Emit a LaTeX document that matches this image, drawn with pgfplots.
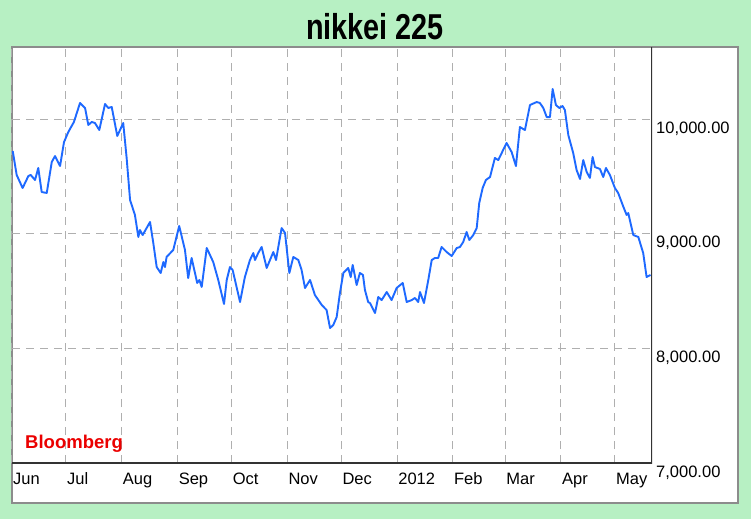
\documentclass[border=0pt]{standalone}
\usepackage{fontspec}
\setmainfont{Liberation Sans}
\usepackage{graphicx}
\usepackage{pgfplots}
\pgfplotsset{compat=1.18}

\definecolor{bggreen}{RGB}{183,240,195}
\definecolor{panelgray}{RGB}{140,140,140}
\definecolor{gridgray}{RGB}{175,175,175}
\definecolor{nkblue}{RGB}{30,105,255}
\definecolor{bbred}{RGB}{235,0,0}

\begin{document}
\begin{tikzpicture}[x=1pt,y=1pt]
  \useasboundingbox (0,0) rectangle (751,519);
  % page background and white panel
  \fill[bggreen] (0,0) rectangle (751,519);
  \fill[white] (12,16) rectangle (738,472);
  \draw[panelgray, line width=1.5pt] (12,16) rectangle (738,472);

  \node[anchor=base] at (375,479)
    {\scalebox{0.8}[1]{\fontsize{36}{40}\selectfont\bfseries nikkei 225}};

  \begin{axis}[
    at={(12pt,56pt)}, anchor=south west,
    scale only axis,
    width=640pt, height=416pt,
    xmin=0, xmax=355.6,
    ymin=7000, ymax=10628,
    axis line style={draw=none},
    major tick length=0pt,
    xtick={0,30,61,92,122,153,183,214,245,274,305,335},
    xticklabels={Jun,Jul,Aug,Sep,Oct,Nov,Dec,2012,Feb,Mar,Apr,May},
    ytick={7000,8000,9000,10000},
    yticklabel pos=right,
    grid=major,
    major grid style={gridgray, line width=1pt, dash pattern=on 8pt off 6pt},
    ticklabel style={font=\fontsize{16.5}{18}\selectfont, inner sep=0pt},
    x tick label style={anchor=base west, yshift=-21pt, xshift=1pt},
    y tick label style={anchor=base west, xshift=4pt, yshift=-14pt},
    scaled y ticks=false,
    /pgf/number format/.cd, fixed, fixed zerofill, precision=2, 1000 sep={,},
    assume math mode=true,
  ]
    \addplot[nkblue, line width=1.9pt, line join=round] coordinates {
      (0.4,9721) (2.6,9512) (5.9,9398) (9.1,9503) (10.4,9512) (12.8,9468)
      (14.6,9573) (16.5,9363) (19.3,9355) (22.1,9625) (23.9,9677) (26.7,9590)
      (28.9,9799) (31.3,9887) (34.4,9974) (37.8,10140) (40.6,10096) (42.4,9948)
      (44.3,9974) (46.1,9965) (48.5,9904) (51.7,10131) (53.5,10096) (55.4,10105)
      (58.5,9852) (61.8,9965) (63.7,9660) (65.6,9294) (68.3,9163) (70.2,8971)
      (71.1,9032) (72.6,8988) (76.7,9102) (78.5,8919) (80.4,8709) (82.6,8657)
      (84.1,8753) (85.0,8709) (85.9,8797) (89.6,8858) (92.9,9067) (96.1,8858)
      (97.9,8613) (99.8,8788) (102.9,8570) (104.1,8596) (105.4,8535) (108.2,8875)
      (111.8,8753) (114.6,8596) (117.8,8387) (119.3,8596) (121.1,8709) (122.6,8683)
      (126.7,8404) (129.4,8622) (132.2,8770) (134.1,8831) (135.0,8770) (136.8,8831)
      (138.7,8884) (141.5,8701) (145.2,8840) (146.7,8770) (149.8,9049) (151.7,9006)
      (154.1,8657) (156.3,8797) (159.1,8770) (160.9,8683) (162.8,8526) (165.6,8596)
      (168.3,8465) (172.1,8378) (174.8,8334) (176.7,8177) (178.5,8203) (180.4,8273)
      (182.2,8483) (184.1,8657) (186.8,8701) (188.2,8622) (189.3,8727) (191.5,8552)
      (193.3,8657) (195.0,8640) (196.1,8509) (197.9,8404) (198.9,8395) (201.7,8308)
      (203.5,8448) (205.4,8421) (208.2,8491) (210.9,8421) (213.7,8526) (217.1,8570)
      (219.3,8404) (222.1,8421) (223.9,8439) (225.7,8404) (226.7,8491) (228.9,8395)
      (231.3,8596) (233.2,8770) (235.0,8788) (236.8,8788) (238.7,8884) (241.5,8840)
      (244.3,8805) (247.1,8875) (248.9,8884) (250.7,8927) (252.6,9015) (254.1,8945)
      (256.3,8988) (258.2,9049) (259.6,9267) (261.5,9398) (263.3,9468) (265.6,9494)
      (268.3,9660) (270.2,9642) (272.9,9730) (274.8,9791) (277.6,9712) (280.0,9590)
      (282.2,9930) (285.0,9904) (287.8,10122) (291.5,10148) (293.3,10140) (295.2,10096)
      (297.1,10017) (298.9,10017) (300.4,10262) (302.2,10122) (304.1,10096) (305.9,10113)
      (307.2,10078) (309.1,9860) (311.8,9704) (313.7,9555) (315.6,9477) (317.4,9642)
      (319.3,9538) (321.1,9486) (322.6,9669) (323.9,9581) (326.7,9564) (328.5,9494)
      (330.0,9573) (332.2,9512) (335.0,9398) (336.8,9355) (339.3,9250) (341.5,9163)
      (342.4,9180) (345.2,8988) (348.0,8971) (350.7,8831) (352.6,8622) (354.8,8640)
    };
    % dark axis lines at bottom and right
    \draw[black!80, line width=1.5pt] (rel axis cs:0,0) -- (rel axis cs:1,0) -- (rel axis cs:1,1);
  \end{axis}

  \node[anchor=base west, inner sep=0pt, text=bbred] at (25,71)
    {\fontsize{18.5}{20}\selectfont\bfseries Bloomberg};
\end{tikzpicture}
\end{document}
